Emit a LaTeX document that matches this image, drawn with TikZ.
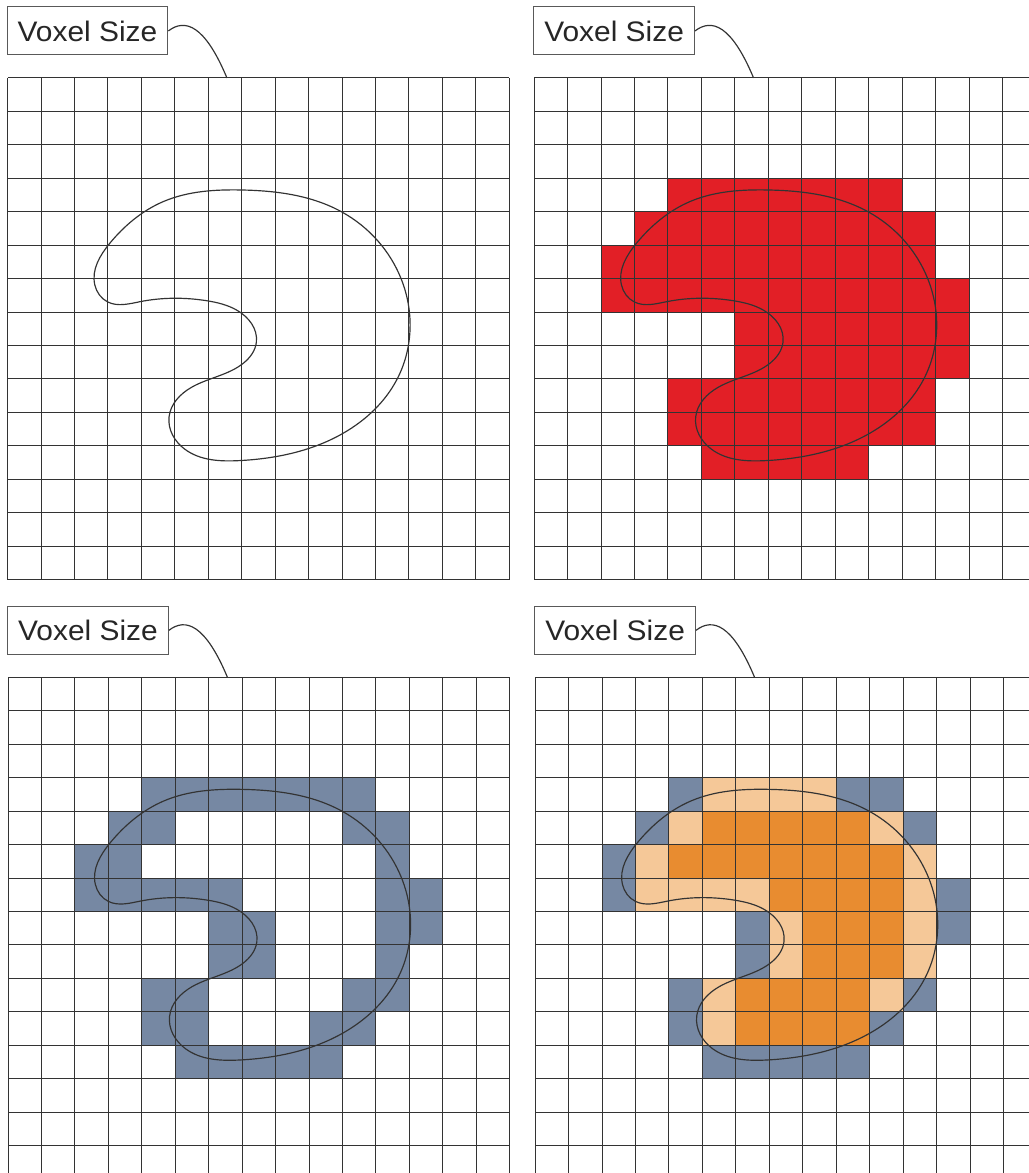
\documentclass[tikz,border=0pt]{standalone}
\usepackage{fontspec}
\usetikzlibrary{hobby}
\newfontfamily\tagfont[FakeStretch=1.06]{Liberation Sans}
\definecolor{voxred}{HTML}{E21F26}
\definecolor{voxblue}{HTML}{7688A3}
\definecolor{voxorange}{HTML}{E88C30}
\definecolor{voxpeach}{HTML}{F5C898}

\begin{document}
\begin{tikzpicture}[x=1cm, y=-1cm,
    gridline/.style={draw=black!80, line width=0.8pt},
    tag/.style={draw=black!65, line width=0.8pt, minimum width=4.81cm, minimum height=1.435cm,
      inner sep=0pt, text=black!85, font=\tagfont\fontsize{24}{24}\selectfont},
    outline/.style={draw=black!80, line width=1pt}]

  \useasboundingbox (0,0) rectangle (30.76,35.07);
  \clip (0,0) rectangle (30.76,35.07);

  % top left corner of each grid
  \coordinate (p1) at (0.225, 2.33);
  \coordinate (p2) at (15.97, 2.33);
  \coordinate (p3) at (0.24, 20.25);
  \coordinate (p4) at (16.0, 20.25);

  % filled voxels, one run per row: row/first/last column
  \begin{scope}[shift={(p2)}]
    \foreach \r/\a/\b in {3/4/10, 4/3/11, 5/2/11, 6/2/12, 7/6/12, 8/6/12, 9/4/11, 10/4/11, 11/5/9}
      \fill[voxred] (\a,\r) rectangle (\b+1,\r+1);
  \end{scope}

  \begin{scope}[shift={(p3)}]
    \foreach \r/\a/\b in {3/4/10, 4/3/4, 4/10/11, 5/2/3, 5/11/11, 6/2/6, 6/11/12, 7/6/7, 7/11/12,
        8/6/7, 8/11/11, 9/4/5, 9/10/11, 10/4/5, 10/9/10, 11/5/9}
      \fill[voxblue] (\a,\r) rectangle (\b+1,\r+1);
  \end{scope}

  \begin{scope}[shift={(p4)}]
    \foreach \r/\a/\b in {3/4/4, 3/9/10, 4/3/3, 4/11/11, 5/2/2, 6/2/2, 6/12/12, 7/6/6, 7/12/12,
        8/6/6, 9/4/4, 9/11/11, 10/4/4, 10/10/10, 11/5/9}
      \fill[voxblue] (\a,\r) rectangle (\b+1,\r+1);
    \foreach \r/\a/\b in {3/5/8, 4/4/4, 4/10/10, 5/3/3, 5/11/11, 6/3/6, 6/11/11, 7/7/7, 7/11/11,
        8/7/7, 8/11/11, 9/5/5, 9/10/10, 10/5/5}
      \fill[voxpeach] (\a,\r) rectangle (\b+1,\r+1);
    \foreach \r/\a/\b in {4/5/9, 5/4/10, 6/7/10, 7/8/10, 8/8/10, 9/6/9, 10/6/9}
      \fill[voxorange] (\a,\r) rectangle (\b+1,\r+1);
  \end{scope}

  % grid, label and shape outline of every panel
  \foreach \p in {1,...,4} {
    \begin{scope}[shift={(p\p)}]
      \foreach \i in {0,...,15} {
        \draw[gridline] (\i,0) -- (\i,15);
        \draw[gridline] (0,\i) -- (15,\i);
      }
      \node[tag] (tag\p) at (2.39,-1.405) {Voxel Size};
      \coordinate (tip\p) at (6.56,0);
      \draw[outline] (tag\p.east) .. controls (5.31,-1.79) and (5.90,-1.58) .. (tip\p);
      \draw[outline, use Hobby shortcut, closed=true]
        (7.00,3.35) .. (10.00,4.01) .. (11.77,6.01) .. (12.03,7.60)
        .. (11.65,9.00) .. (10.04,10.62) .. (6.95,11.44) .. (5.30,11.10)
        .. (4.83,10.13) .. (5.50,9.25) .. (7.05,8.53) .. (7.44,7.90)
        .. (6.85,6.94) .. (5.95,6.66) .. (3.96,6.69) .. (3.00,6.70)
        .. (2.61,6.19) .. (3.06,4.94) .. (4.65,3.70);
    \end{scope}
  }
\end{tikzpicture}
\end{document}
